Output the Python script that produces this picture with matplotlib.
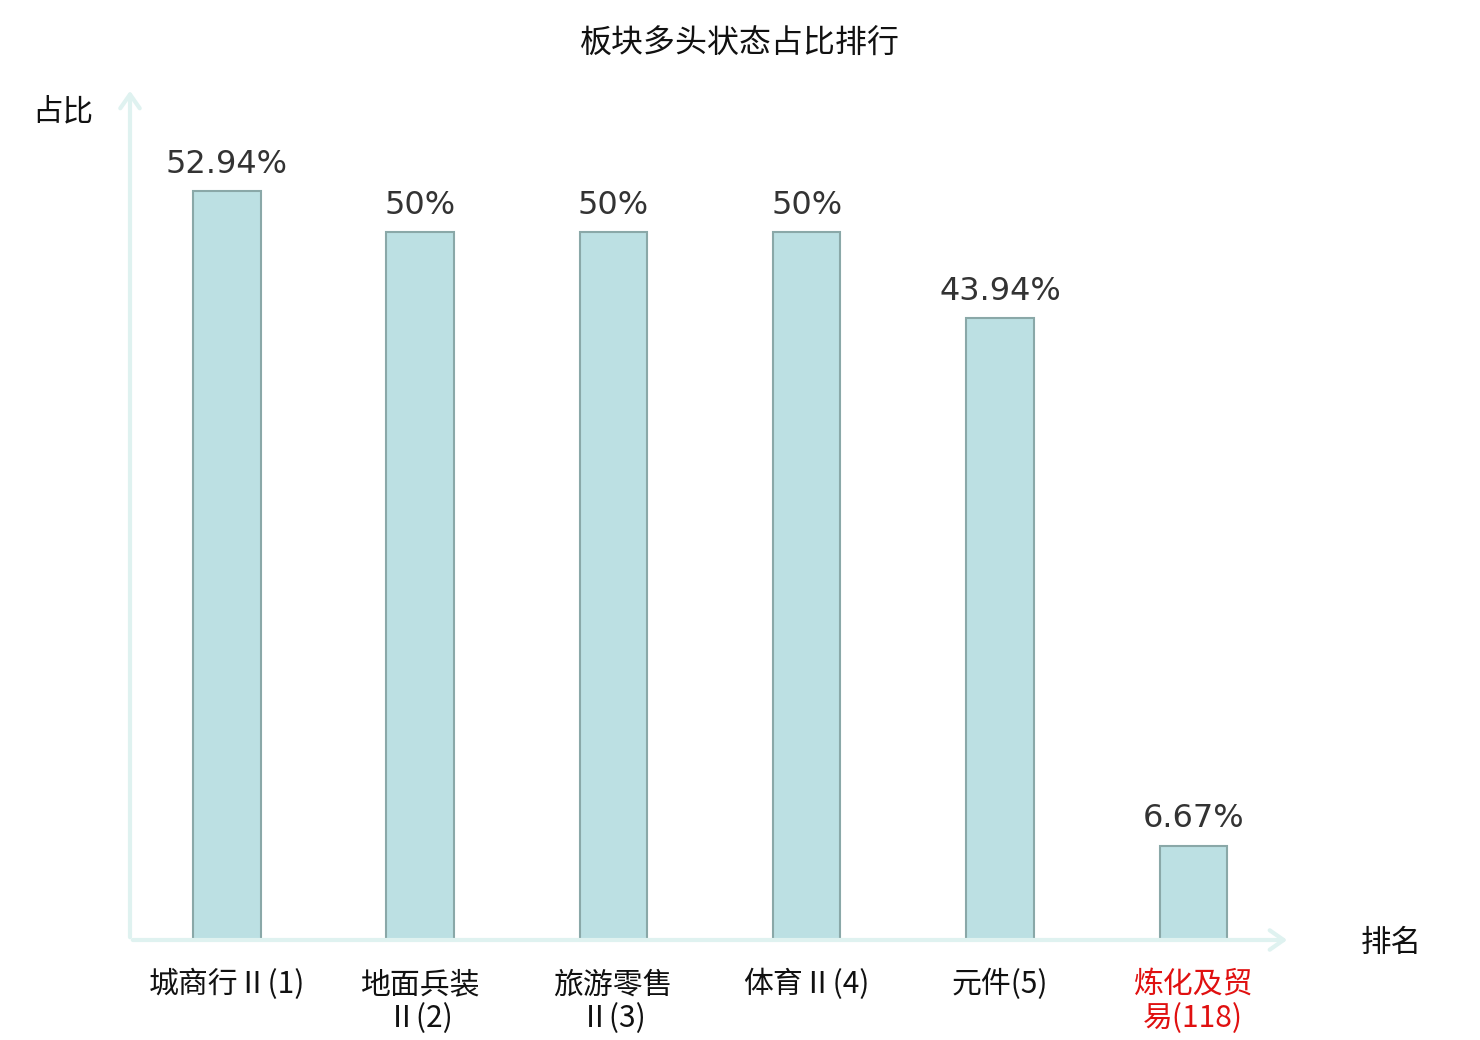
import matplotlib
matplotlib.use("Agg")
import matplotlib.pyplot as plt

plt.rcParams['font.family'] = ['Noto Sans CJK SC', 'DejaVu Sans']

# Data
categories = ["城商行Ⅱ(1)", "地面兵装\nⅡ(2)", "旅游零售\nⅡ(3)", "体育Ⅱ(4)", "元件(5)", "炼化及贸\n易(118)"]
values = [52.94, 50, 50, 50, 43.94, 6.67]
value_labels = ["52.94%", "50%", "50%", "50%", "43.94%", "6.67%"]
label_colors = ["#111111", "#111111", "#111111", "#111111", "#111111", "#e01010"]

fig = plt.figure(figsize=(14.8, 10.4), dpi=100)
ax = fig.add_axes([130 / 1480, 100 / 1040, 1160 / 1480, 852 / 1040])

x = range(len(categories))
bars = ax.bar(x, values, width=0.35, color="#bce0e3", edgecolor="#8aa8a8", linewidth=1.5, zorder=3)

# Value labels above bars
for rect, txt in zip(bars, value_labels):
    ax.annotate(txt, (rect.get_x() + rect.get_width() / 2, rect.get_height()),
                xytext=(0, 8), textcoords="offset points", ha="center", va="bottom",
                fontsize=23, color="#333333", family="DejaVu Sans")

ax.set_xlim(-0.5, 5.5)
ax.set_ylim(0, 60.2)

# Axis lines as arrows
for s in ax.spines.values():
    s.set_visible(False)
axis_color = "#dff2f0"
arrow = dict(arrowstyle="->,head_length=1.0,head_width=0.7", color=axis_color, lw=3)
ax.annotate("", xy=(1.0, 0), xytext=(0, 0), xycoords="axes fraction", arrowprops=arrow)
ax.annotate("", xy=(0, 1.0), xytext=(0, 0), xycoords="axes fraction", arrowprops=arrow)

ax.set_yticks([])
ax.set_xticks(list(x))
ax.set_xticklabels(categories, fontsize=21.5, linespacing=1.1)
for lbl, c in zip(ax.get_xticklabels(), label_colors):
    lbl.set_color(c)
ax.tick_params(axis="x", length=0, pad=21)

fig.text(740 / 1480, 1 - 44 / 1040, "板块多头状态占比排行", ha="center", va="center", fontsize=23, color="#111111")
fig.text(63 / 1480, 1 - 112 / 1040, "占比", ha="center", va="center", fontsize=22, color="#111111")
fig.text(1391 / 1480, 1 - 943 / 1040, "排名", ha="center", va="center", fontsize=22, color="#111111")

fig.savefig("out.png", dpi=100)
